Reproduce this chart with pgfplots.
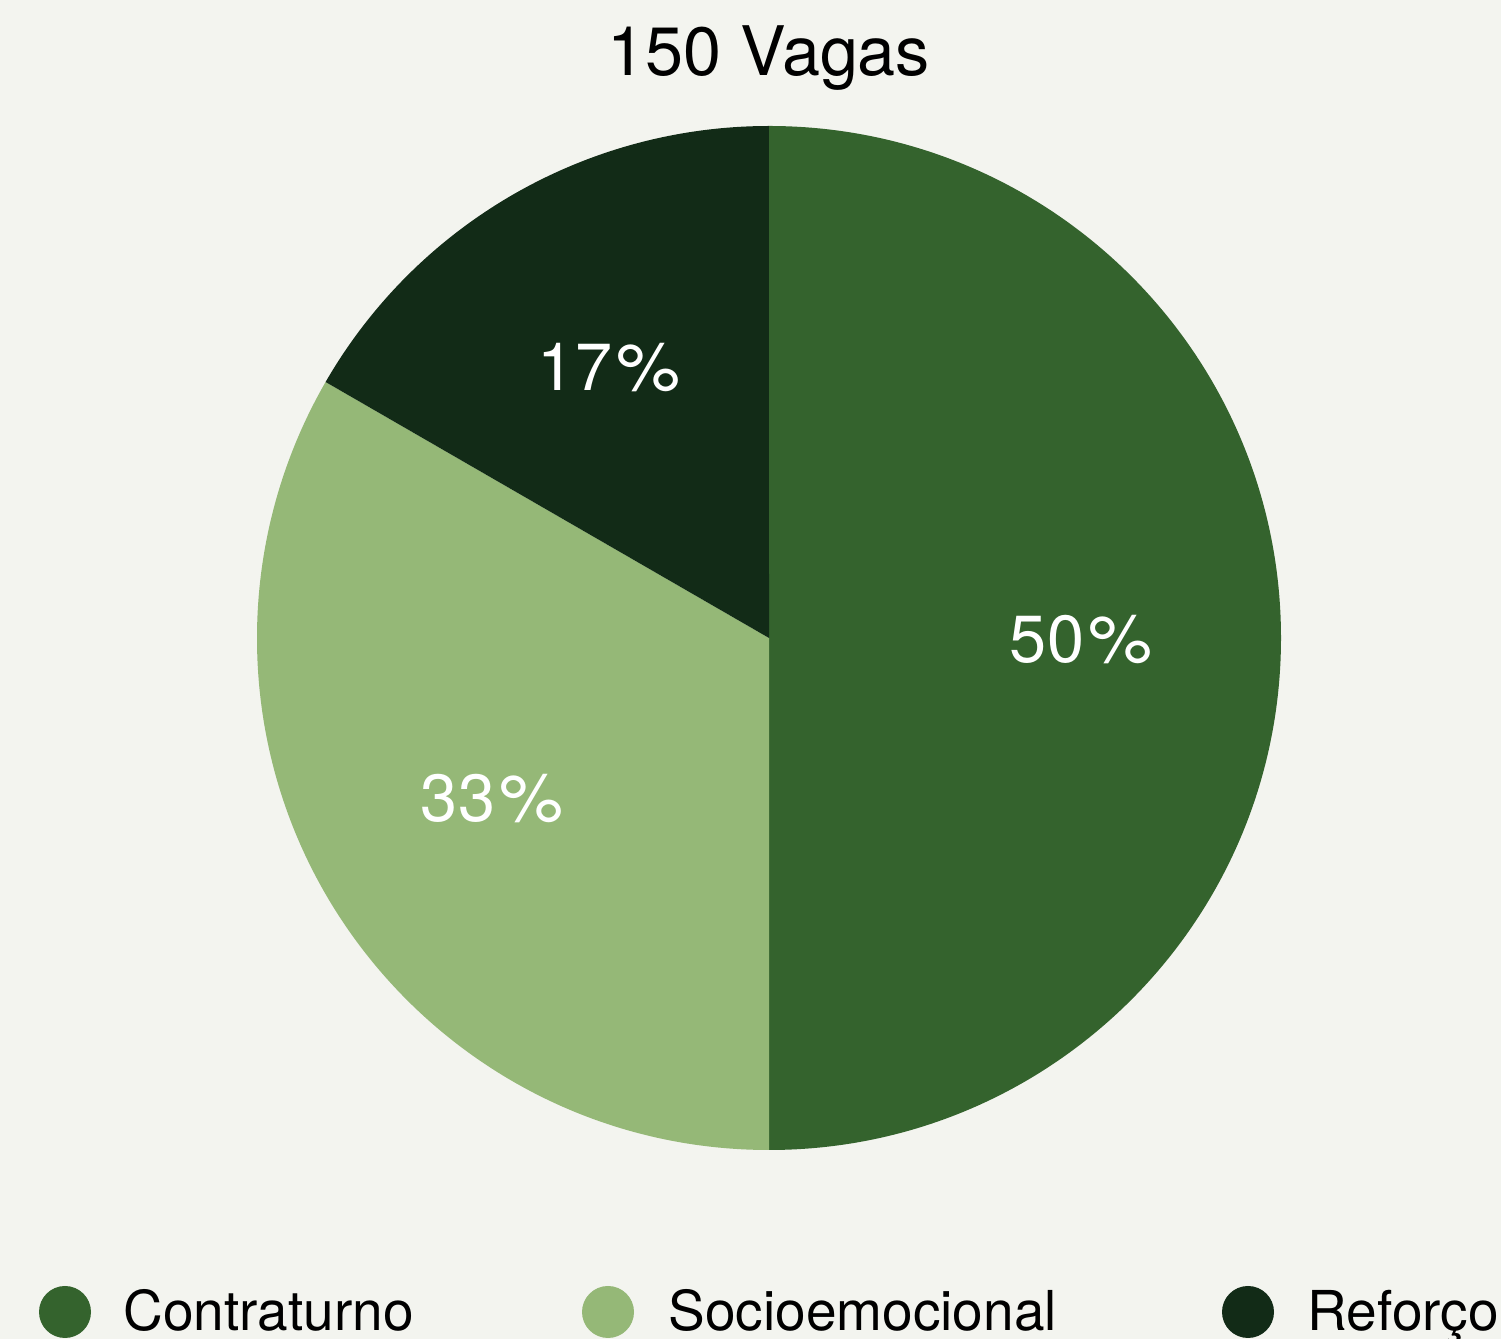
\documentclass[border=0pt]{standalone}
\usepackage{pgfplots}
\pgfplotsset{compat=1.18}
\usepackage{fontspec}
\setmainfont{TeX Gyre Heros}
\definecolor{bg}{HTML}{F3F4EF}
\definecolor{cA}{HTML}{34632D}
\definecolor{cB}{HTML}{95B877}
\definecolor{cC}{HTML}{122B17}
% values: 150 vagas
\def\vA{75}  % Contraturno
\def\vB{50}  % Socioemocional
\def\vC{25}  % Reforco
\def\vT{150}
\newcommand{\pct}[1]{#1\kern1.2pt\scalebox{1.08}[1]{\%}}
\begin{document}
\begin{tikzpicture}
\clip (0,0) rectangle (450.3pt,401.7pt);
\fill[bg] (0,0) rectangle (450.3pt,401.7pt);
\begin{axis}[
  scale only axis, width=450.3pt, height=401.7pt,
  xmin=0, xmax=1501, ymin=0, ymax=1339,
  hide axis, clip=false,
]
\pgfmathsetmacro{\aA}{90-360*(\vA/\vT)}
\pgfmathsetmacro{\aB}{\aA-360*(\vB/\vT)}
\pgfmathsetmacro{\aC}{\aB-360*(\vC/\vT)}
\fill[cA] (axis cs:769,701) -- ++(90:153.6pt) arc[start angle=90, end angle=\aA, radius=153.6pt] -- cycle;
\fill[cB] (axis cs:769,701) -- ++(\aA:153.6pt) arc[start angle=\aA, end angle=\aB, radius=153.6pt] -- cycle;
\fill[cC] (axis cs:769,701) -- ++(\aB:153.6pt) arc[start angle=\aB, end angle=\aC, radius=153.6pt] -- cycle;
% title
\node[anchor=base, inner sep=0pt, font=\fontsize{20.5pt}{24pt}\selectfont] at (axis cs:769,1263) {150 Vagas};
% slice labels
\node[anchor=base, inner sep=0pt, text=white, font=\fontsize{20pt}{24pt}\selectfont] at (axis cs:1081,676) {\pct{50}};
\node[anchor=base, inner sep=0pt, text=white, font=\fontsize{20pt}{24pt}\selectfont] at (axis cs:492,517) {\pct{33}};
\node[anchor=base, inner sep=0pt, text=white, font=\fontsize{20pt}{24pt}\selectfont] at (axis cs:609,948) {\pct{17}};
% legend
\fill[cA] (axis cs:65,27) circle[radius=7.8pt];
\fill[cB] (axis cs:608,27) circle[radius=7.8pt];
\fill[cC] (axis cs:1248,27) circle[radius=7.8pt];
\node[anchor=base west, inner sep=0pt, font=\fontsize{16.5pt}{20pt}\selectfont] at (axis cs:123,8) {Contraturno};
\node[anchor=base west, inner sep=0pt, font=\fontsize{16.5pt}{20pt}\selectfont] at (axis cs:668,8) {Socioemocional};
\node[anchor=base west, inner sep=0pt, font=\fontsize{16.5pt}{20pt}\selectfont] at (axis cs:1307,8) {Reforço};
\end{axis}
\end{tikzpicture}
\end{document}
